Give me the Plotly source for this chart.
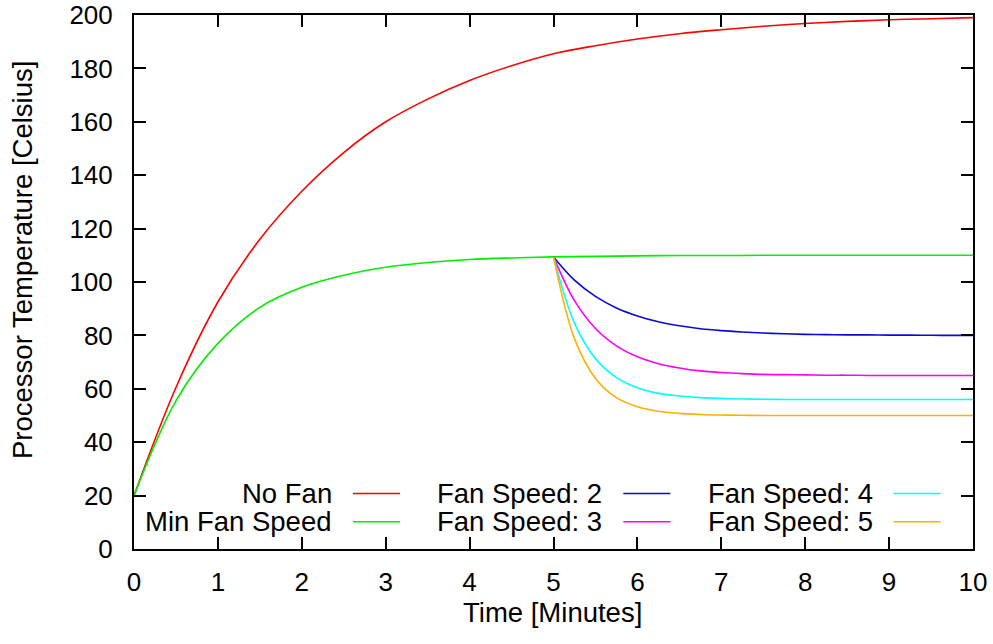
import plotly.graph_objects as go

# readings taken off the reference chart
minutes = [0, 0.5, 1, 1.5, 2, 2.5, 3, 3.5, 4, 4.5, 5,
           5.5, 6, 6.5, 7, 7.5, 8, 8.5, 9, 9.5, 10]
no_fan = [20, 60.5, 92.5, 116, 134, 148.5, 160, 168.5, 175.5, 181, 185.5,
          188.5, 191, 193, 194.5, 195.8, 196.8, 197.6, 198.2, 198.6, 199]
min_fan = [20, 55.5, 77, 90.5, 98, 102.5, 105.5, 107.3, 108.4, 109, 109.4,
           109.6, 109.8, 109.9, 109.9, 110, 110, 110, 110, 110, 110]

fan_minutes = [5, 5.25, 5.5, 5.75, 6, 6.25, 6.5, 6.75, 7, 7.25, 7.5,
               7.75, 8, 8.25, 8.5, 8.75, 9, 9.25, 9.5, 9.75, 10]
fan_speed_2 = [109.4, 100.7, 94.6, 90.3, 87.3, 85.1, 83.6, 82.5, 81.8, 81.3, 80.9,
               80.6, 80.4, 80.3, 80.2, 80.2, 80.1, 80.1, 80.05, 80, 80]
fan_speed_3 = [109.4, 93.0, 82.6, 76.1, 72.0, 69.4, 67.8, 66.7, 66.1, 65.7, 65.4,
               65.3, 65.2, 65.1, 65.1, 65, 65, 65, 65, 65, 65]
fan_speed_4 = [109.4, 84.6, 71.3, 64.2, 60.4, 58.3, 57.3, 56.7, 56.4, 56.2, 56.1,
               56, 56, 56, 56, 56, 56, 56, 56, 56, 56]
fan_speed_5 = [109.4, 78.8, 63.9, 56.7, 53.3, 51.6, 50.8, 50.4, 50.2, 50.1, 50,
               50, 50, 50, 50, 50, 50, 50, 50, 50, 50]

series = [
    ("No Fan", minutes, no_fan, "#ff0000"),
    ("Min Fan Speed", minutes, min_fan, "#00ee00"),
    ("Fan Speed: 2", fan_minutes, fan_speed_2, "#0a0ad8"),
    ("Fan Speed: 3", fan_minutes, fan_speed_3, "#ff00ff"),
    ("Fan Speed: 4", fan_minutes, fan_speed_4, "#00ffff"),
    ("Fan Speed: 5", fan_minutes, fan_speed_5, "#ffb000"),
]

W, H = 993, 644
L, R, T, B = 134, 20, 15, 95
family = "Liberation Sans, Arial, Helvetica, sans-serif"
tick_font = dict(family=family, size=26, color="black")
text_font = dict(family=family, size=27.5, color="black")

fig = go.Figure()
for name, x, y, color in series:
    fig.add_trace(go.Scatter(x=x, y=y, name=name, mode="lines",
                             line=dict(color=color, width=1.6, shape="spline")))

# pixel -> paper helpers
def px(xp):
    return (xp - L) / (W - L - R)

def py(yp):
    return (H - B - yp) / (H - T - B)

# gnuplot style key: label right-aligned, sample line to its right
annotations = []
shapes = []
for i, (name, _, _, color) in enumerate(series):
    col, row = divmod(i, 2)
    text_right = 334 + col * 270.3
    yy = 493.5 + row * 28.3
    annotations.append(dict(text=name, x=px(text_right), y=py(yy), xref="paper", yref="paper",
                            xanchor="right", yanchor="middle", showarrow=False, font=text_font))
    shapes.append(dict(type="line", xref="paper", yref="paper",
                       x0=px(text_right + 19), x1=px(text_right + 66), y0=py(yy), y1=py(yy),
                       line=dict(color=color, width=1.6)))

# axis titles
annotations.append(dict(text="Time [Minutes]", x=px(552), y=py(612), xref="paper", yref="paper",
                        xanchor="center", yanchor="middle", showarrow=False, font=text_font))
annotations.append(dict(text="Processor Temperature [Celsius]", x=px(22), y=py(260),
                        xref="paper", yref="paper", xanchor="center", yanchor="middle",
                        textangle=-90, showarrow=False, font=text_font))

axis = dict(showline=True, linecolor="black", linewidth=2, mirror="ticks", ticks="inside",
            ticklen=12, tickwidth=2, tickcolor="black", showgrid=False, zeroline=False,
            tickfont=tick_font, automargin=False, ticklabeloverflow="allow")

fig.update_layout(
    width=W, height=H, margin=dict(l=L, r=R, t=T, b=B),
    plot_bgcolor="white", paper_bgcolor="white", showlegend=False,
    font=tick_font, annotations=annotations, shapes=shapes,
    xaxis=dict(axis, range=[0, 10], dtick=1, ticklabelstandoff=9),
    yaxis=dict(axis, range=[0, 200], dtick=20, ticklabelstandoff=14),
)

# drop the default body margin so the figure fills the window exactly
fig.write_html("out.html", config={"displayModeBar": False},
               post_script="document.body.style.margin = '0';")
